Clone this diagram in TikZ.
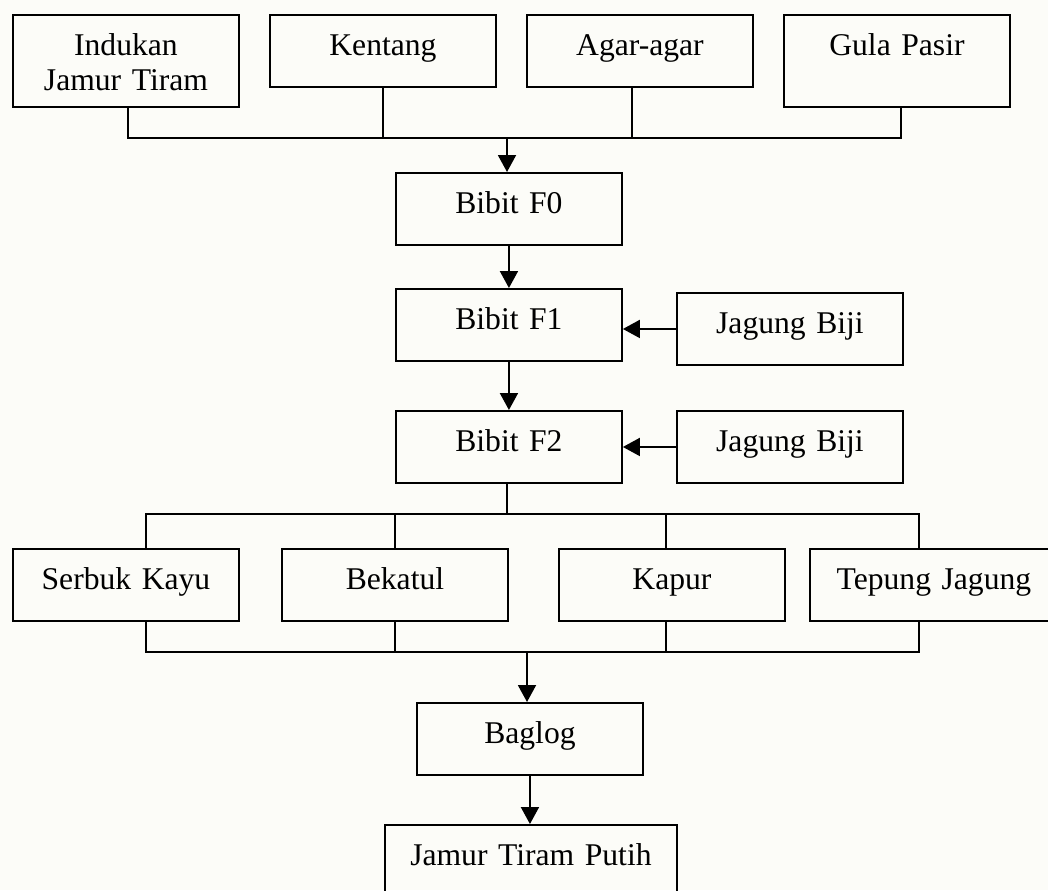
\documentclass[tikz,border=0pt]{standalone}
\usepackage{fontspec}
\setmainfont{Liberation Serif}
\usepackage{tikz}
\usetikzlibrary{calc, arrows.meta, positioning}

\definecolor{paper}{RGB}{252,252,248}

\begin{document}
\begin{tikzpicture}[x=0.02cm,y=-0.02cm,line width=1.1pt,
    >={Triangle[length=0.34cm,width=0.36cm]},
    box/.style={draw,anchor=north west,inner xsep=0pt,inner ysep=0pt,
        text width=4.52cm,align=center,text height=0.82cm,text depth=0.62cm,
        font=\fontsize{18}{19.5}\selectfont},
    tall/.style={text depth=1.02cm}]
        \clip (0,0) rectangle (1048,890);
        \fill [paper] (0,0) rectangle (1048,890);
        % bahan bibit F0
        \draw node [box,tall] (ind) at (12,14) {Indukan\\Jamur Tiram};
        \draw node [box] (ken) at (269,14) {Kentang};
        \draw node [box] (aga) at (526,14) {Agar-agar};
        \draw node [box,tall] (gul) at (783,14) {Gula Pasir};
        % bibit
        \draw node [box] (f0) at (395,172) {Bibit F0};
        \draw node [box] (f1) at (395,288) {Bibit F1};
        \draw node [box] (f2) at (395,410) {Bibit F2};
        \draw node [box] (jb1) at (676,292) {Jagung Biji};
        \draw node [box] (jb2) at (676,410) {Jagung Biji};
        % media baglog
        \draw node [box] (ser) at (12,548) {Serbuk Kayu};
        \draw node [box] (bek) at (281,548) {Bekatul};
        \draw node [box] (kap) at (558,548) {Kapur};
        \draw node [box,text width=4.96cm] (tep) at (809,548) {Tepung Jagung};
        \draw node [box] (bag) at (416,702) {Baglog};
        \draw node [box,text width=5.84cm] (jtp) at (384,824) {Jamur Tiram Putih};
        % titik cabang
        \coordinate (t1) at (128,138);
        \coordinate (t2) at (383,138);
        \coordinate (t3) at (632,138);
        \coordinate (t4) at (901,138);
        \coordinate (tm) at (507,138);
        \coordinate (m) at (507,514);
        \coordinate (b1) at (146,514);
        \coordinate (b2) at (395,514);
        \coordinate (b3) at (666,514);
        \coordinate (b4) at (919,514);
        \coordinate (c1) at (146,652);
        \coordinate (c2) at (395,652);
        \coordinate (c3) at (666,652);
        \coordinate (c4) at (919,652);
        \coordinate (cm) at (527,652);
        \draw (t1 |- ind.south) -- (t1) -- (t4) -- (t4 |- gul.south);
        \draw (t2 |- ken.south) -- (t2);
        \draw (t3 |- aga.south) -- (t3);
        \draw [->] (tm) -- (tm |- f0.north);
        \draw [->] (f0.south) -- (f1.north);
        \draw [->] (f1.south) -- (f2.north);
        \draw [->] (jb1.west) -- (jb1.west -| f1.east);
        \draw [->] (jb2.west) -- (jb2.west -| f2.east);
        \draw (m |- f2.south) -- (m);
        \draw (b1 |- ser.north) -- (b1) -- (b4) -- (b4 |- tep.north);
        \draw (b2) -- (b2 |- bek.north);
        \draw (b3) -- (b3 |- kap.north);
        \draw (c1 |- ser.south) -- (c1) -- (c4) -- (c4 |- tep.south);
        \draw (c2 |- bek.south) -- (c2);
        \draw (c3 |- kap.south) -- (c3);
        \draw [->] (cm) -- (cm |- bag.north);
        \draw [->] (bag.south) -- (bag.south |- jtp.north);
    \end{tikzpicture}
\end{document}
